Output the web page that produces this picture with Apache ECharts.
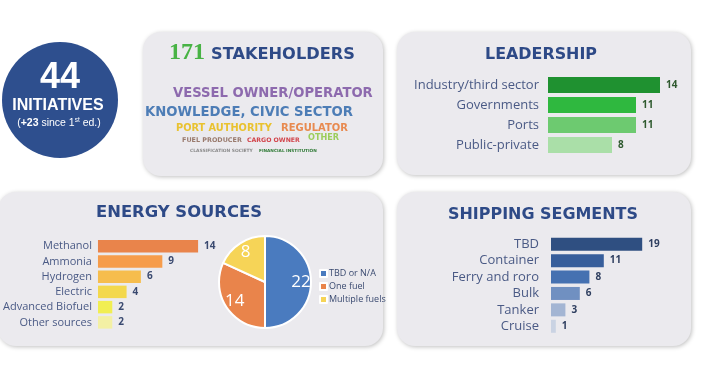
<!DOCTYPE html>
<html><head><meta charset="utf-8">
<script src="https://cdn.jsdelivr.net/npm/echarts@6/dist/echarts.min.js"></script>
<style>html,body{margin:0;padding:0;background:#fff}#c{width:714px;height:370px}</style>
</head><body><div id="c"></div>
<script>
var leadCats = ['Industry/third sector','Governments','Ports','Public-private'];
var leadVals = [14, 11, 11, 8];
var leadColors = ['#1f9130','#2fb83f','#6dca70','#aadfa8'];

var energyCats = ['Methanol','Ammonia','Hydrogen','Electric','Advanced Biofuel','Other sources'];
var energyVals = [14, 9, 6, 4, 2, 2];
var energyColors = ['#e9844b','#f69c4b','#f6bd4d','#f3d84c','#f1ee52','#f3f0a4'];

var fuelNames = ['TBD or N/A','One fuel','Multiple fuels'];
var fuelVals = [22, 14, 8];
var fuelColors = ['#4a7bbf','#e9844b','#f6d457'];

var shipCats = ['TBD','Container','Ferry and roro','Bulk','Tanker','Cruise'];
var shipVals = [19, 11, 8, 6, 3, 1];
var shipColors = ['#2f4f81','#375e9b','#4571b1','#7090c1','#a3b5d3','#cad3e3'];

var totalInitiatives = 44, addedInitiatives = 23, totalStakeholders = 171;

var heavyFont = '"DejaVu Sans", sans-serif';
var bodyFont = '"Open Sans", sans-serif';
var labelColor = '#4a5a85';
var titleColor = '#2e4a87';

function colored(vals, colors){ return vals.map(function(v,i){ return {value:v, itemStyle:{color:colors[i]}}; }); }

var mctx = document.createElement('canvas').getContext('2d');
function fitSize(text, width){
  mctx.font = 'bold 100px ' + heavyFont;
  return 100 * width / mctx.measureText(text).width;
}

var chart = echarts.init(document.getElementById('c'), null, {renderer:'canvas'});

function panel(x,y,w,h){
  return {type:'rect', z:-5, shape:{x:x,y:y,width:w,height:h,r:18},
    style:{fill:'#ebeaee', shadowBlur:4, shadowColor:'rgba(0,0,0,0.25)', shadowOffsetX:1, shadowOffsetY:1}};
}
function txt(x,y,text,width,color,align){
  return {type:'text', z:5, x:x, y:y, style:{text:text, fontSize:fitSize(text,width), fill:color, fontWeight:'bold',
    fontFamily:heavyFont, align:align||'left', verticalAlign:'middle'}};
}
var arial = '"Liberation Sans", Arial, sans-serif';

var option = {
  animation:false,
  graphic:[
    panel(143,32,240,144),
    panel(397,32,294,143),
    panel(-2,192,385,154),
    panel(397,192,294,154),
    {type:'circle', z:1, shape:{cx:60,cy:100,r:58}, style:{fill:'#2e4f8e'}},
    {type:'text', z:5, x:60, y:78, style:{text:String(totalInitiatives), fontSize:36, fontWeight:'bold', fill:'#fff', fontFamily:arial, align:'center', verticalAlign:'middle'}},
    {type:'text', z:5, x:58, y:106, style:{text:'INITIATIVES', fontSize:16, fontWeight:'bold', fill:'#fff', fontFamily:arial, align:'center', verticalAlign:'middle'}},
    {type:'text', z:5, x:59, y:123, style:{
      text:'{a|(}{b|+' + addedInitiatives + '}{a| since 1}{s|st}{a| ed.)}', align:'center', verticalAlign:'middle',
      rich:{a:{fontSize:10.5, fill:'#fff', fontFamily:arial},
            b:{fontSize:10.5, fill:'#fff', fontWeight:'bold', fontFamily:arial},
            s:{fontSize:6.5, fill:'#fff', verticalAlign:'top', padding:[0,0,5,0], fontFamily:arial}}}},
    // stakeholders
    {type:'text', z:5, x:169, y:53, style:{text:String(totalStakeholders), fontSize:24, fontWeight:'bold', fill:'#48b345',
      fontFamily:'"Liberation Serif", serif', verticalAlign:'middle'}},
    txt(211,55,'STAKEHOLDERS',144,titleColor),
    txt(173,94,'VESSEL OWNER/OPERATOR',200,'#8d6aae'),
    txt(145,113,'KNOWLEDGE, CIVIC SECTOR',208,'#4d7db6'),
    txt(176,128,'PORT AUTHORITY',96,'#e9c230'),
    txt(281,128,'REGULATOR',67,'#e88a50'),
    txt(182,140,'FUEL PRODUCER',60,'#9a7b6e'),
    txt(247,140,'CARGO OWNER',53,'#d2464d'),
    txt(308,138,'OTHER',31,'#9ccd5b'),
    txt(190,151,'CLASSIFICATION SOCIETY',63,'#8a8a8a'),
    txt(259,151,'FINANCIAL INSTITUTION',58,'#2f7a36'),
    // titles
    txt(541,55,'LEADERSHIP',112,titleColor,'center'),
    txt(179,213,'ENERGY SOURCES',166,titleColor,'center'),
    txt(543,215,'SHIPPING SEGMENTS',190,titleColor,'center')
  ],
  grid:[
    {left:548, top:75, width:160, height:80},
    {left:95, top:238.5, width:146, height:91.5},
    {left:551, top:236, width:120, height:98.5}
  ],
  xAxis:[
    {gridIndex:0, type:'value', min:0, max:20, show:false},
    {gridIndex:1, type:'value', min:0, max:20, show:false},
    {gridIndex:2, type:'value', min:0, max:25, show:false}
  ],
  yAxis:[
    {gridIndex:0, type:'category', inverse:true, data:leadCats, axisLine:{show:false}, axisTick:{show:false},
      axisLabel:{interval:0, margin:9, fontSize:13, color:labelColor, fontFamily:bodyFont}},
    {gridIndex:1, type:'category', inverse:true, data:energyCats, axisLine:{show:false}, axisTick:{show:false},
      axisLabel:{interval:0, margin:6, fontSize:11, color:labelColor, fontFamily:bodyFont}},
    {gridIndex:2, type:'category', inverse:true, data:shipCats, axisLine:{show:false}, axisTick:{show:false},
      axisLabel:{interval:0, margin:12, fontSize:13, color:labelColor, fontFamily:bodyFont}}
  ],
  legend:{
    data:fuelNames, orient:'vertical', left:314, top:264, itemWidth:7, itemHeight:7, itemGap:4, icon:'rect',
    textStyle:{fontSize:9, color:'#3a4a70', fontFamily:bodyFont, padding:[0,0,0,-3]}
  },
  series:[
    {type:'bar', xAxisIndex:0, yAxisIndex:0, data:colored(leadVals, leadColors), barWidth:16,
      label:{show:true, position:'right', distance:6, fontSize:10, fontWeight:'bold', color:'#2f5a2f', fontFamily:bodyFont}},
    {type:'bar', xAxisIndex:1, yAxisIndex:1, data:colored(energyVals, energyColors), barWidth:12.5,
      label:{show:true, position:'right', distance:6, fontSize:10, fontWeight:'bold', color:'#3a4a70', fontFamily:bodyFont}},
    {type:'bar', xAxisIndex:2, yAxisIndex:2, data:colored(shipVals, shipColors), barWidth:13,
      label:{show:true, position:'right', distance:6, fontSize:10, fontWeight:'bold', color:'#2f3f60', fontFamily:bodyFont}},
    {type:'pie', center:[265,282], radius:[0,46], startAngle:90, clockwise:true,
      data:fuelNames.map(function(n,i){return {name:n, value:fuelVals[i], itemStyle:{color:fuelColors[i]}};}),
      itemStyle:{borderColor:'#ffffff', borderWidth:2}, label:{show:false}, labelLine:{show:false}, emphasis:{disabled:true}},
    {type:'pie', center:[265,282], radius:[20,46], startAngle:90, clockwise:true, silent:true, legendHoverLink:false,
      data:fuelNames.map(function(n,i){return {name:n, value:fuelVals[i], itemStyle:{color:'rgba(0,0,0,0)'}};}),
      label:{show:true, position:'inside', formatter:'{c}', fontSize:17, color:'#fff', fontFamily:bodyFont},
      labelLine:{show:false}, emphasis:{disabled:true}}
  ]
};
chart.setOption(option);
</script></body></html>
